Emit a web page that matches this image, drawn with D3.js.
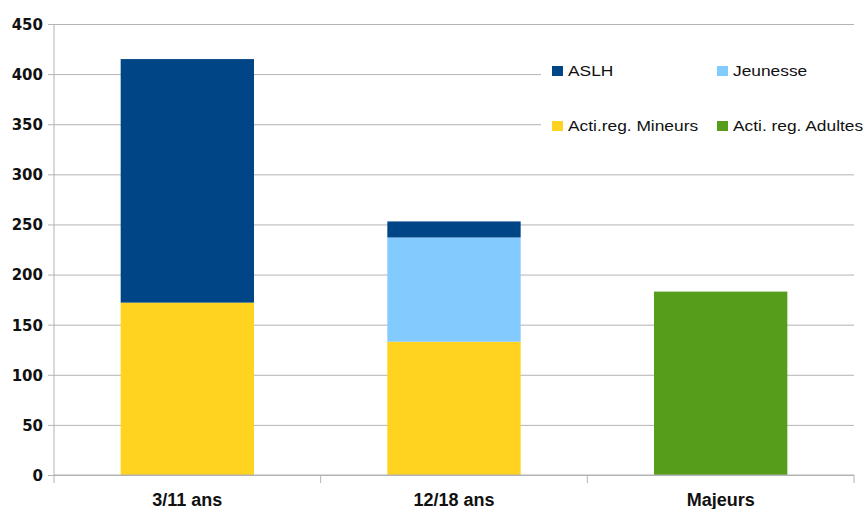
<!DOCTYPE html>
<html lang="fr">
<head>
<meta charset="UTF-8">
<title>Effectifs par tranche d'âge</title>
<style>
    body { margin: 0; background: #fff; }
    .ylab { font: bold 15px "DejaVu Sans", sans-serif; fill: #111; }
    .xlab { font: bold 18px "Liberation Sans", Arial, sans-serif; fill: #111; }
    .leg { font: 15.5px "Liberation Sans", Arial, sans-serif; fill: #111; }
</style>
<script src="https://d3js.org/d3.v7.min.js"></script>
</head>
<body>
<div id="chart"></div>
<script>
    // data
    var categories = ["3/11 ans", "12/18 ans", "Majeurs"];
    var seriesNames = ["Acti.reg. Mineurs", "Jeunesse", "ASLH", "Acti. reg. Adultes"];
    var seriesColors = ["#ffd320", "#83caff", "#004586", "#579d1c"];
    var actiMineurs = [172, 133, 0];
    var jeunesse = [0, 104, 0];
    var aslh = [243, 16, 0];
    var actiAdultes = [0, 0, 183];
    var yTicks = [0, 50, 100, 150, 200, 250, 300, 350, 400, 450];

    // legend order as drawn (two rows of two)
    var legendOrder = [2, 1, 0, 3];

    var width = 866, height = 509;
    var margin = {left: 54, right: 12, top: 24, bottom: 34};

    var svg = d3.select("#chart").append("svg")
        .attr("width", width)
        .attr("height", height);

    var x = d3.scaleBand()
        .domain(categories)
        .range([margin.left, width - margin.right])
        .paddingInner(0.5)
        .paddingOuter(0.25);

    var y = d3.scaleLinear()
        .domain([0, 450])
        .range([height - margin.bottom, margin.top]);

    // gridlines + left ticks
    var yAxis = svg.append("g")
        .attr("transform", "translate(" + margin.left + ",0)")
        .call(d3.axisLeft(y).tickValues(yTicks).tickSize(6).tickPadding(5)
            .tickSizeInner(-(width - margin.right - margin.left)).tickSizeOuter(0));
    yAxis.select(".domain").remove();
    yAxis.selectAll(".tick line").attr("stroke", "#b3b3b3").attr("x1", -6);
    yAxis.selectAll(".tick text").attr("class", "ylab").attr("x", -11).attr("dy", "0.36em");

    // stacked bars
    var table = categories.map(function(c, i) {
        return {cat: c, s0: actiMineurs[i], s1: jeunesse[i], s2: aslh[i], s3: actiAdultes[i]};
    });
    var stack = d3.stack().keys(["s0", "s1", "s2", "s3"])(table);

    svg.append("g").selectAll("g")
        .data(stack)
        .enter().append("g")
        .attr("fill", function(d, i) { return seriesColors[i]; })
        .selectAll("rect")
        .data(function(d) { return d.filter(function(p) { return p[1] > p[0]; }); })
        .enter().append("rect")
        .attr("x", function(d) { return x(d.data.cat); })
        .attr("y", function(d) { return y(d[1]); })
        .attr("width", x.bandwidth())
        .attr("height", function(d) { return y(d[0]) - y(d[1]); });

    // axes lines
    var x0 = margin.left, x1 = width - margin.right, yb = y(0);
    svg.append("line").attr("x1", x0).attr("x2", x0).attr("y1", y(450)).attr("y2", yb + 8)
        .attr("stroke", "#b3b3b3");
    svg.append("line").attr("x1", x0).attr("x2", x1).attr("y1", yb).attr("y2", yb)
        .attr("stroke", "#b3b3b3");
    var bounds = [x0].concat(categories.map(function(c) { return x(c) + x.bandwidth() + x.step() * 0.25; }));
    svg.selectAll(".xt").data(bounds.slice(1)).enter().append("line")
        .attr("x1", function(d) { return d; }).attr("x2", function(d) { return d; })
        .attr("y1", yb).attr("y2", yb + 8)
        .attr("stroke", "#b3b3b3");

    svg.selectAll(".xl").data(categories).enter().append("text")
        .attr("class", "xlab")
        .attr("x", function(d) { return x(d) + x.bandwidth() / 2; })
        .attr("y", yb + 31)
        .attr("text-anchor", "middle")
        .text(function(d) { return d; });

    // legend
    var leg = svg.append("g");
    leg.append("rect").attr("x", 541).attr("y", 40).attr("width", 325).attr("height", 120).attr("fill", "#fff");
    var items = leg.selectAll(".li").data(legendOrder).enter().append("g")
        .attr("transform", function(d, i) {
            return "translate(" + (552 + (i % 2) * 165) + "," + (66 + Math.floor(i / 2) * 55) + ")";
        });
    items.append("rect").attr("width", 11).attr("height", 10)
        .attr("fill", function(d) { return seriesColors[d]; });
    // the legend text is a little wider in the reference
    items.append("text").attr("class", "leg")
        .attr("transform", "translate(16,10) scale(1.12,1)")
        .text(function(d) { return seriesNames[d]; });
</script>
</body>
</html>
